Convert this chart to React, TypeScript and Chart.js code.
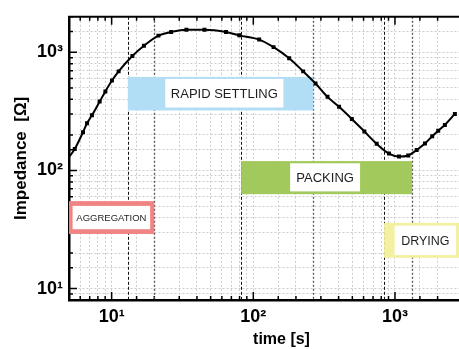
import React, { useEffect, useRef } from 'react';
import { Chart, registerables } from 'chart.js';

Chart.register(...registerables);

// ---- data ----
const timeS = [4.6, 5.49, 6.28, 6.7, 7.26, 8.23, 9.03, 10.05, 11.2, 14.0, 16.9, 21.4, 26.3, 33.7, 45.2, 64.2, 79.6, 110, 139, 179, 225, 275, 334, 403, 496, 608, 743, 907, 1067, 1241, 1423, 1627, 1832, 2019, 2250, 2647];
const impedanceOhm = [115, 152, 211, 251, 293, 383, 467, 577, 690, 931, 1137, 1386, 1488, 1555, 1555, 1488, 1393, 1283, 1107, 891, 690, 545, 420, 346, 273, 214, 168, 139, 131, 134, 149, 169, 195, 217, 243, 301];

const phaseNames = ['AGGREGATION', 'RAPID SETTLING', 'PACKING', 'DRYING'];
const phaseStartS = [5, 13, 82, 838];
const phaseEndS = [20, 265, 1320, 5000];

const X_MIN = 5;
const X_MAX = 5000;
const Y_MIN = 8;
const Y_MAX = 2000;

// ---- annotation layout (value units) & styles ----
const phaseBoxes = [
  { y0: 29, y1: 55, lx0: 5.3, lx1: 18.7, ly0: 31.8, ly1: 50.1, color: '#f08383', font: 9.5 },
  { y0: 322, y1: 619, lx0: 23.9, lx1: 163, ly0: 341, ly1: 596, color: '#b1ddf5', font: 13 },
  { y0: 63, y1: 120, lx0: 182, lx1: 567, ly0: 66.5, ly1: 115, color: '#a2c95c', font: 13 },
  { y0: 18.2, y1: 36, lx0: 995, lx1: 2700, ly0: 19.2, ly1: 34.1, color: '#f4f0a2', font: 12.5 },
];

const SUP: Record<number, string> = { 0: '⁰', 1: '¹', 2: '²', 3: '³', 4: '⁴' };
const isPow10 = (v: number) => {
  const l = Math.log10(v);
  return Math.abs(l - Math.round(l)) < 1e-6;
};

const decorPlugin = {
  id: 'decor',
  beforeDatasetsDraw(chart: any) {
    const { ctx, chartArea: a, scales } = chart;
    const x = scales.x;
    const y = scales.y;
    ctx.save();
    ctx.beginPath();
    ctx.rect(a.left, a.top, a.right - a.left, a.bottom - a.top);
    ctx.clip();

    // inward ticks
    ctx.strokeStyle = '#000';
    ctx.lineWidth = 1.5;
    ctx.setLineDash([]);
    x.ticks.forEach((t: any) => {
      const px = x.getPixelForValue(t.value);
      const len = isPow10(t.value) ? 8 : 4;
      ctx.beginPath();
      ctx.moveTo(px, a.bottom);
      ctx.lineTo(px, a.bottom - len);
      ctx.moveTo(px, a.top);
      ctx.lineTo(px, a.top + len);
      ctx.stroke();
    });
    y.ticks.forEach((t: any) => {
      const py = y.getPixelForValue(t.value);
      const len = isPow10(t.value) ? 8 : 4;
      ctx.beginPath();
      ctx.moveTo(a.left, py);
      ctx.lineTo(a.left + len, py);
      ctx.stroke();
    });

    // phase boundary lines
    phaseStartS.forEach((v) => {
      if (v <= X_MIN || v >= X_MAX) return;
      const px = Math.round(x.getPixelForValue(v)) + 0.5;
      ctx.strokeStyle = '#111';
      ctx.lineWidth = 1;
      ctx.setLineDash([3, 2]);
      ctx.beginPath();
      ctx.moveTo(px, a.top);
      ctx.lineTo(px, a.bottom);
      ctx.stroke();
    });
    phaseEndS.forEach((v) => {
      if (v <= X_MIN || v >= X_MAX) return;
      const px = Math.round(x.getPixelForValue(v)) + 0.5;
      ctx.strokeStyle = '#555';
      ctx.lineWidth = 1.3;
      ctx.setLineDash([2, 2]);
      ctx.beginPath();
      ctx.moveTo(px, a.top);
      ctx.lineTo(px, a.bottom);
      ctx.stroke();
    });
    ctx.setLineDash([]);

    // phase boxes
    phaseNames.forEach((name, i) => {
      const b = phaseBoxes[i];
      const x0 = x.getPixelForValue(phaseStartS[i]);
      const x1 = x.getPixelForValue(phaseEndS[i]);
      const yt = y.getPixelForValue(b.y1);
      const yb = y.getPixelForValue(b.y0);
      ctx.fillStyle = b.color;
      ctx.fillRect(x0, yt, x1 - x0, yb - yt);
      const lx0 = x.getPixelForValue(b.lx0);
      const lx1 = x.getPixelForValue(b.lx1);
      const lyt = y.getPixelForValue(b.ly1);
      const lyb = y.getPixelForValue(b.ly0);
      ctx.fillStyle = '#ffffff';
      ctx.fillRect(lx0, lyt, lx1 - lx0, lyb - lyt);
      ctx.fillStyle = '#1e1e1e';
      ctx.font = `${b.font}px "Liberation Sans", Arial, sans-serif`;
      ctx.textAlign = 'center';
      ctx.textBaseline = 'middle';
      ctx.fillText(name, (lx0 + lx1) / 2, (lyt + lyb) / 2 + 1);
    });
    ctx.restore();
  },
  afterDraw(chart: any) {
    const { ctx, chartArea: a } = chart;
    ctx.save();
    ctx.strokeStyle = '#000';
    ctx.lineWidth = 2;
    ctx.beginPath();
    ctx.moveTo(a.left - 1, a.top);
    ctx.lineTo(a.right, a.top);
    ctx.stroke();
    ctx.restore();
  },
};

const tickFont = { family: '"Liberation Sans Narrow", "Liberation Sans", Arial, sans-serif', size: 18, weight: 'bold' as const };

export default function App() {
  const ref = useRef<HTMLCanvasElement | null>(null);

  useEffect(() => {
    document.body.style.margin = '0';
    const canvas = ref.current;
    if (!canvas) return;
    const chart = new Chart(canvas, {
      type: 'line',
      data: {
        datasets: [
          {
            data: timeS.map((t, i) => ({ x: t, y: impedanceOhm[i] })),
            borderColor: '#000',
            borderWidth: 2,
            pointStyle: 'rect',
            pointRadius: 2.8,
            pointBackgroundColor: '#000',
            pointBorderColor: '#000',
            pointBorderWidth: 0,
            cubicInterpolationMode: 'monotone',
            fill: false,
          },
        ],
      },
      options: {
        animation: false,
        responsive: false,
        devicePixelRatio: 1,
        parsing: true,
        layout: { padding: { top: 11, right: 5, left: 0, bottom: 0 } },
        plugins: { legend: { display: false }, tooltip: { enabled: false }, title: { display: false } },
        scales: {
          x: {
            type: 'logarithmic',
            min: X_MIN,
            max: X_MAX,
            afterFit: (s: any) => {
              s.height = 49;
            },
            grid: { color: '#cccccc', lineWidth: 1, drawTicks: false },
            border: { display: true, color: '#000', width: 2.5, dash: [2, 2] },
            ticks: {
              autoSkip: false,
              maxRotation: 0,
              padding: 6,
              color: '#000',
              font: tickFont,
              callback: (v: any) => {
                const n = Number(v);
                return isPow10(n) ? '10' + SUP[Math.round(Math.log10(n))] : '';
              },
            },
            title: {
              display: true,
              text: 'time [s]',
              color: '#000',
              font: { family: '"Liberation Sans", Arial, sans-serif', size: 16, weight: 'bold' },
              padding: { top: 0, bottom: 0 },
            },
          },
          y: {
            type: 'logarithmic',
            min: Y_MIN,
            max: Y_MAX,
            afterFit: (s: any) => {
              s.width = 69;
            },
            grid: { color: '#cccccc', lineWidth: 1, drawTicks: false },
            border: { display: true, color: '#000', width: 2.5, dash: [2, 2] },
            ticks: {
              autoSkip: false,
              padding: 6,
              color: '#000',
              font: tickFont,
              callback: (v: any) => {
                const n = Number(v);
                return isPow10(n) ? '10' + SUP[Math.round(Math.log10(n))] : '';
              },
            },
            title: {
              display: true,
              text: 'Impedance  [Ω]',
              color: '#000',
              font: { family: '"Liberation Sans", Arial, sans-serif', size: 17, weight: 'bold' },
              padding: { top: 11, bottom: 0 },
            },
          },
        },
      },
      plugins: [decorPlugin],
    });
    return () => chart.destroy();
  }, []);

  return (
    <div style={{ width: 459, height: 349, overflow: 'hidden', background: '#fff' }}>
      <canvas ref={ref} width={500} height={349} style={{ display: 'block' }} />
    </div>
  );
}
